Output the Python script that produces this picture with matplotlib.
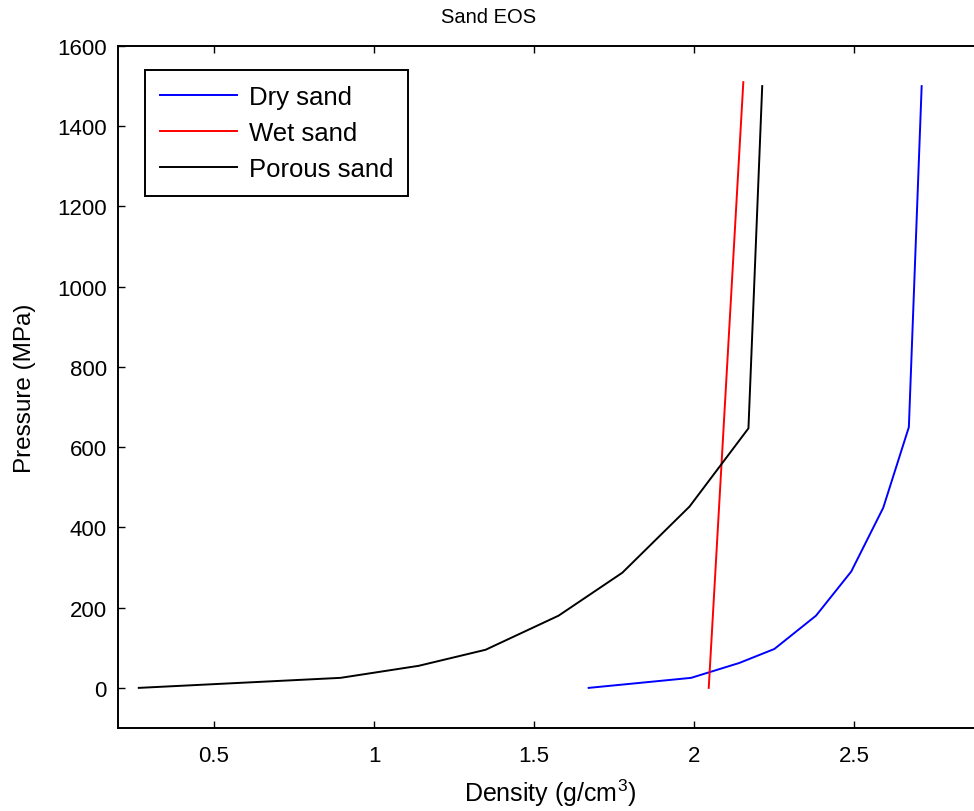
import matplotlib
matplotlib.use("Agg")
import matplotlib.pyplot as plt

plt.rcParams['font.family'] = ['Liberation Sans', 'DejaVu Sans']
plt.rcParams['mathtext.fontset'] = 'custom'
plt.rcParams['mathtext.rm'] = 'Liberation Sans'

# Data
dry_density = [1.67, 1.99, 2.14, 2.25, 2.38, 2.49, 2.59, 2.67, 2.71]
dry_pressure = [0, 25, 62, 97, 180, 290, 449, 650, 1500]

wet_density = [2.045, 2.153]
wet_pressure = [0, 1510]

porous_density = [0.265, 0.895, 1.139, 1.348, 1.576, 1.775, 1.985, 2.169, 2.212]
porous_pressure = [0, 25, 55, 95, 180, 287, 452, 647, 1500]

x_ticks = [0.5, 1, 1.5, 2, 2.5]
x_tick_labels = ['0.5', '1', '1.5', '2', '2.5']
y_ticks = [0, 200, 400, 600, 800, 1000, 1200, 1400, 1600]

fs = 16
fig = plt.figure(figsize=(9.74, 8.12), dpi=100)
ax = fig.add_axes([118/974, 83/812, 864.5/974, 682/812])

ax.plot(dry_density, dry_pressure, color='#0000ff', lw=1.4, label='Dry sand')
ax.plot(wet_density, wet_pressure, color='#ff0000', lw=1.4, label='Wet sand')
ax.plot(porous_density, porous_pressure, color='black', lw=1.4, label='Porous sand')

ax.set_xlim(0.2, 2.9)
ax.set_ylim(-100, 1600)
ax.set_xticks(x_ticks)
ax.set_xticklabels(x_tick_labels)
ax.set_yticks(y_ticks)
ax.tick_params(axis='both', direction='in', length=5, width=1.0, top=True, right=True,
               labelsize=fs)
ax.tick_params(axis='x', pad=12)
ax.tick_params(axis='y', pad=8)
for s in ax.spines.values():
    s.set_linewidth(1.4)

ax.set_title('Sand EOS', fontsize=14.5, pad=17, x=0.429)
ax.set_xlabel('Density (g/cm$^3$)', fontsize=18, labelpad=8)
ax.set_ylabel('Pressure (MPa)', fontsize=17.5, labelpad=15)

leg = ax.legend(loc='upper left', bbox_to_anchor=(0.0312, 0.9648), borderaxespad=0,
                fontsize=18.5, fancybox=False, edgecolor='black', framealpha=1,
                handlelength=3.0, handletextpad=0.43, labelspacing=0.45,
                borderpad=0.6)
leg.get_frame().set_linewidth(1.4)

fig.savefig('out.png', dpi=100)
